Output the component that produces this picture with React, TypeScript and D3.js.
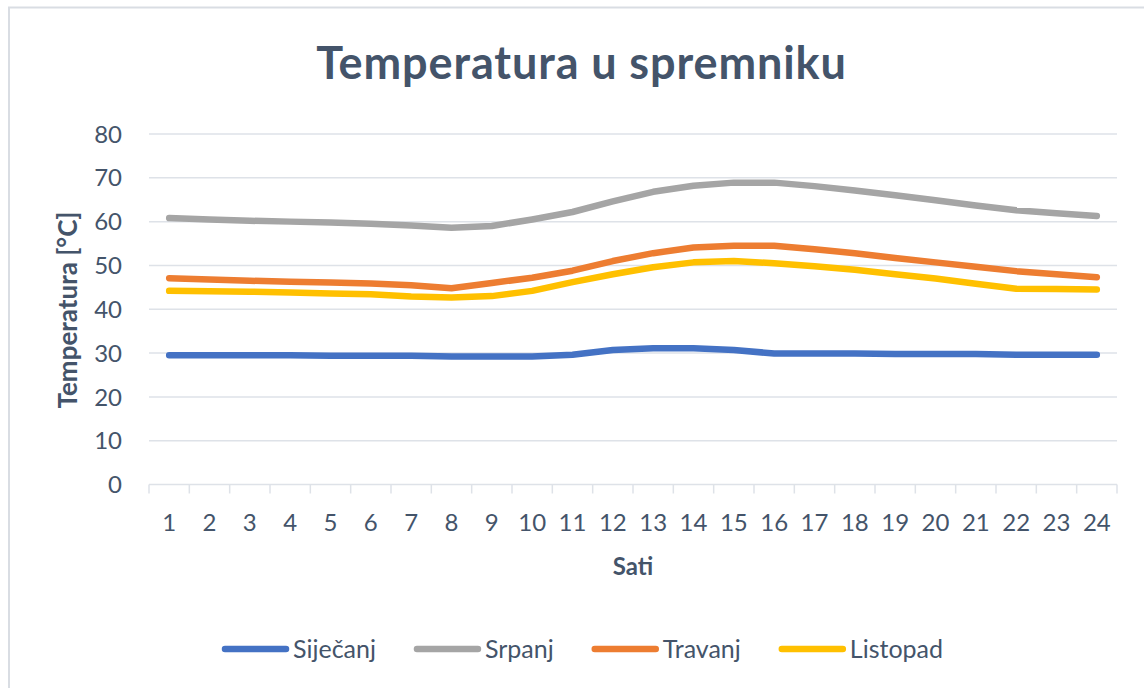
import { useEffect, useRef } from "react";
import * as d3 from "d3";

// Sati (hours) on the x axis
const sati = d3.range(1, 25).map(String);

// Temperature per month series
const sijecanj = [29.5, 29.5, 29.5, 29.5, 29.4, 29.4, 29.4, 29.2, 29.2, 29.2, 29.6, 30.7, 31.1, 31.1, 30.7, 29.9, 29.9, 29.9, 29.8, 29.8, 29.8, 29.6, 29.6, 29.6];
const srpanj = [60.8, 60.5, 60.2, 60.0, 59.8, 59.5, 59.1, 58.6, 59.0, 60.5, 62.2, 64.6, 66.8, 68.2, 68.9, 68.9, 68.1, 67.1, 66.0, 64.9, 63.7, 62.6, 61.9, 61.3];
const travanj = [47.1, 46.8, 46.5, 46.3, 46.1, 45.9, 45.5, 44.8, 46.0, 47.2, 48.8, 51.0, 52.8, 54.1, 54.5, 54.5, 53.7, 52.8, 51.7, 50.7, 49.7, 48.7, 48.0, 47.3];
const listopad = [44.2, 44.1, 44.0, 43.8, 43.6, 43.4, 42.9, 42.7, 43.0, 44.2, 46.2, 48.0, 49.6, 50.7, 51.0, 50.5, 49.8, 49.0, 48.0, 47.0, 45.8, 44.7, 44.6, 44.5];

const seriesNames = ["Siječanj", "Srpanj", "Travanj", "Listopad"];
const seriesColors = ["#4472C4", "#A5A5A5", "#ED7D31", "#FFC000"];
const yTicks = [0, 10, 20, 30, 40, 50, 60, 70, 80];

const W = 1144;
const H = 688;
const textColor = "#44546A";
const gridColor = "#DEE2E8";
const font = "Lato, 'Open Sans', sans-serif";

const App = () => {
  const ref = useRef<SVGSVGElement | null>(null);

  useEffect(() => {
    if (!ref.current) return;
    const svg = d3.select(ref.current);
    svg.selectAll("*").remove();

    const series = [sijecanj, srpanj, travanj, listopad].map((vals, i) => ({
      name: seriesNames[i],
      color: seriesColors[i],
      values: vals,
    }));

    const left = 149;
    const right = 1117;
    const x = d3.scaleBand().domain(sati).range([left, right]);
    const y = d3.scaleLinear().domain([0, 80]).range([484.5, 134]);

    // chart border
    svg.append("rect")
      .attr("x", 9)
      .attr("y", 7.5)
      .attr("width", W + 20)
      .attr("height", H + 20)
      .attr("fill", "#fff")
      .attr("stroke", "#D9DDE3")
      .attr("stroke-width", 2);

    // title
    svg.append("text")
      .attr("x", 581.5)
      .attr("y", 79)
      .attr("text-anchor", "middle")
      .style("font-family", font)
      .style("font-weight", "700")
      .style("font-size", "45px")
      .style("letter-spacing", "0.9px")
      .style("fill", textColor)
      .text("Temperatura u spremniku");

    // horizontal grid
    svg.append("g")
      .selectAll("line")
      .data(yTicks.filter((t) => t > 0))
      .enter()
      .append("line")
      .attr("x1", left)
      .attr("x2", right)
      .attr("y1", (d) => y(d))
      .attr("y2", (d) => y(d))
      .attr("stroke", gridColor)
      .attr("stroke-width", 1.5);

    // y tick labels
    svg.append("g")
      .selectAll("text")
      .data(yTicks)
      .enter()
      .append("text")
      .attr("x", 122)
      .attr("y", (d) => y(d))
      .attr("dy", "0.36em")
      .attr("text-anchor", "end")
      .style("font-family", font)
      .style("font-size", "24px")
      .style("fill", textColor)
      .text((d) => d);

    // x axis line + ticks between categories
    svg.append("line")
      .attr("x1", left)
      .attr("x2", right)
      .attr("y1", y(0))
      .attr("y2", y(0))
      .attr("stroke", gridColor)
      .attr("stroke-width", 1.5);

    const tickPos = sati.map((s) => x(s) as number).concat([right]);
    svg.append("g")
      .selectAll("line")
      .data(tickPos)
      .enter()
      .append("line")
      .attr("x1", (d) => d)
      .attr("x2", (d) => d)
      .attr("y1", y(0))
      .attr("y2", y(0) + 9)
      .attr("stroke", gridColor)
      .attr("stroke-width", 1.5);

    const cx = (s: string) => (x(s) as number) + x.bandwidth() / 2;

    svg.append("g")
      .selectAll("text")
      .data(sati)
      .enter()
      .append("text")
      .attr("x", (d) => cx(d))
      .attr("y", 531)
      .attr("text-anchor", "middle")
      .style("font-family", font)
      .style("font-size", "24px")
      .style("fill", textColor)
      .text((d) => d);

    // axis titles
    svg.append("text")
      .attr("x", (left + right) / 2)
      .attr("y", 575)
      .attr("text-anchor", "middle")
      .style("font-family", font)
      .style("font-weight", "700")
      .style("font-size", "24px")
      .style("fill", textColor)
      .text("Sati");

    svg.append("text")
      .attr("transform", "translate(77,310) rotate(-90)")
      .attr("text-anchor", "middle")
      .style("font-family", font)
      .style("font-weight", "700")
      .style("font-size", "26px")
      .style("fill", textColor)
      .text("Temperatura [°C]");

    // lines
    const line = d3.line<number>()
      .x((_, i) => cx(sati[i]))
      .y((d) => y(d));

    svg.append("g")
      .selectAll("path")
      .data(series)
      .enter()
      .append("path")
      .attr("d", (d) => line(d.values))
      .attr("fill", "none")
      .attr("stroke", (d) => d.color)
      .attr("stroke-width", 6.5)
      .attr("stroke-linecap", "round")
      .attr("stroke-linejoin", "round");

    // legend, centred under the chart
    const legend = svg.append("g");
    const lineLen = 61;
    const gapText = 7;
    const gapItem = 41;
    const items = series.map((s) => {
      const g = legend.append("g");
      g.append("line")
        .attr("x1", 0)
        .attr("x2", lineLen)
        .attr("y1", 0)
        .attr("y2", 0)
        .attr("stroke", s.color)
        .attr("stroke-width", 6.5)
        .attr("stroke-linecap", "round");
      const t = g.append("text")
        .attr("x", lineLen + gapText)
        .attr("dy", "0.36em")
        .style("font-family", font)
        .style("font-size", "25px")
        .style("fill", textColor)
        .text(s.name);
      const tw = (t.node() as SVGTextElement).getComputedTextLength();
      return { g, w: lineLen + gapText + tw };
    });
    const total = d3.sum(items, (d) => d.w) + gapItem * (items.length - 1);
    let pos = 584 - total / 2;
    items.forEach((it) => {
      it.g.attr("transform", `translate(${pos},649)`);
      pos += it.w + gapItem;
    });
  }, []);

  return (
    <svg
      ref={ref}
      width={W}
      height={H}
      style={{ position: "absolute", left: 0, top: 0, background: "#fff" }}
    />
  );
};

export default App;
